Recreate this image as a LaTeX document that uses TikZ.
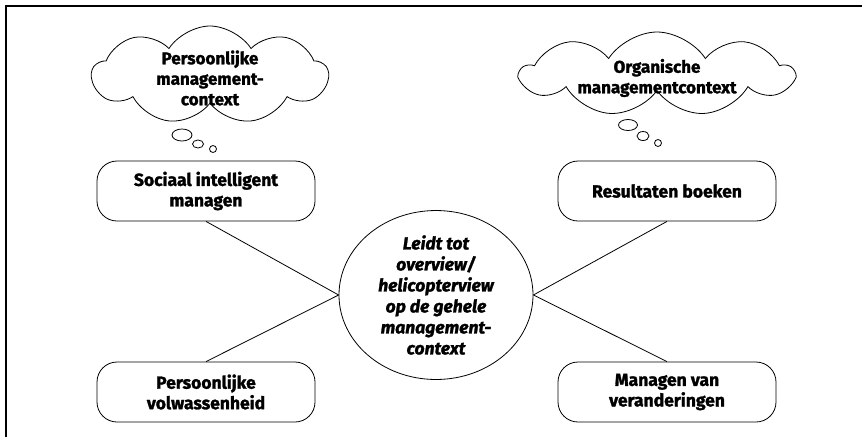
\documentclass[tikz,border=0pt]{standalone}
\usepackage{fontspec}
\setmainfont{Fira Sans}[BoldFeatures={FakeBold=1.6},BoldItalicFeatures={FakeBold=1.6}]
\usetikzlibrary{shapes.geometric,shapes.symbols}
\begin{document}
\begin{tikzpicture}[x=1pt,y=-1pt,line width=0.8pt,
  thought/.style={cloud,draw,cloud puffs=9,cloud puff arc=115,inner sep=0pt},
  cloudtext/.style={align=center,font=\fontsize{17}{20.5}\selectfont\bfseries},
  bubble/.style={ellipse,draw,inner sep=0pt},
  roundbox/.style={draw,rounded corners=20pt,minimum width=218pt,minimum height=60pt,
    align=center,inner sep=2pt,font=\fontsize{17.5}{20.5}\selectfont\bfseries},
  hub/.style={ellipse,draw,minimum width=194pt,minimum height=150pt,inner sep=0pt,
    align=center,font=\fontsize{17.5}{21}\selectfont\bfseries\itshape},
  link/.style={draw}]
\useasboundingbox (0,0) rectangle (862,437);
% frame (top and left edges)
\draw[line width=1.1pt] (6,437) -- (6,6) -- (862,6);

% thought clouds
\node[thought,minimum width=236pt,minimum height=98pt] (pc) at (210,75) {};
\node[cloudtext] (pct) at (210,78) {Persoonlijke\\management-\\context};
\node[bubble,minimum width=20pt,minimum height=12pt] (pb1) at (182,135) {};
\node[bubble,minimum width=11pt,minimum height=8pt] (pb2) at (198,144) {};
\node[bubble,minimum width=7pt,minimum height=7pt] (pb3) at (213,149) {};

\node[thought,minimum width=272pt,minimum height=84pt] (oc) at (657,74) {};
\node[cloudtext] (oct) at (657,78) {Organische\\managementcontext};
\node[bubble,minimum width=19pt,minimum height=11pt] (ob1) at (628,125) {};
\node[bubble,minimum width=12pt,minimum height=9pt] (ob2) at (643,136) {};
\node[bubble,minimum width=7pt,minimum height=7pt] (ob3) at (658,143) {};

% outer boxes
\node[roundbox] (sim) at (206,191) {Sociaal intelligent\\managen};
\node[roundbox] (rb) at (667,191) {Resultaten boeken};
\node[roundbox] (pv) at (206,392) {Persoonlijke\\volwassenheid};
\node[roundbox] (mv) at (667,392) {Managen van\\veranderingen};

% central ellipse
\node[hub] (hub) at (436,295)
  {Leidt tot\\overview/\\helicopterview\\op de gehele\\management-\\context};

% connectors
\draw[link] (sim.south) -- (hub.west);
\draw[link] (pv.north) -- (hub.west);
\draw[link] (rb.south) -- (hub.east);
\draw[link] (mv.north) -- (hub.east);
\end{tikzpicture}
\end{document}
